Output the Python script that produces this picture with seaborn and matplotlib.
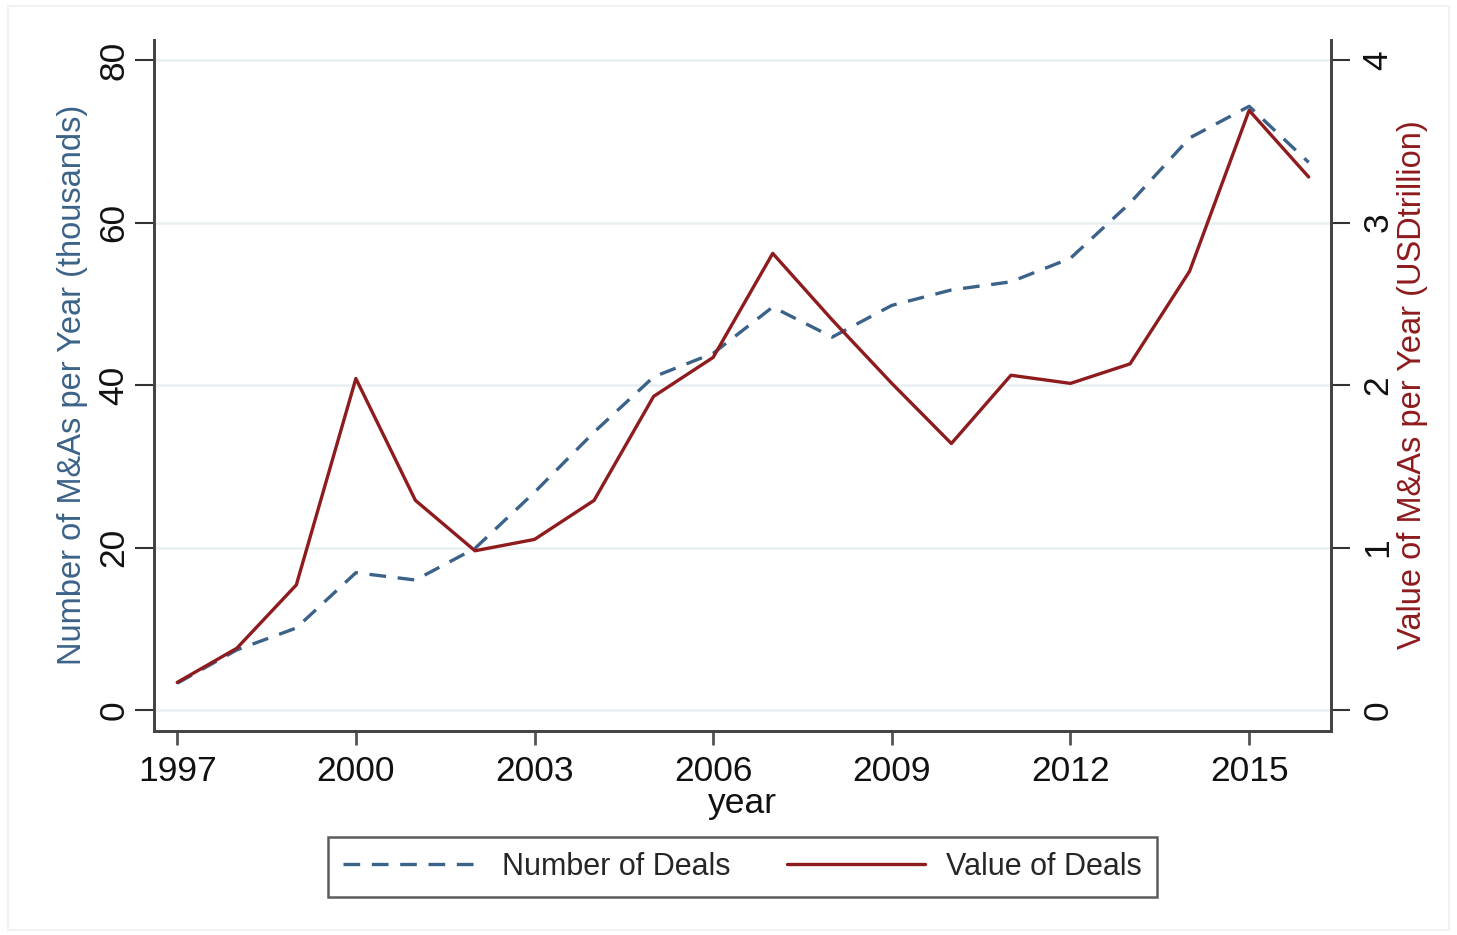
import matplotlib
matplotlib.use("Agg")
import matplotlib.pyplot as plt
import seaborn as sns
import pandas as pd
from matplotlib.patches import Rectangle

years = list(range(1997, 2017))
num_deals = [3.3, 7.4, 10.1, 16.9, 16.0, 19.9, 26.8, 34.2, 41.0, 43.9,
             49.6, 45.9, 49.8, 51.7, 52.7, 55.6, 62.4, 70.4, 74.3, 67.4]
val_deals = [0.17, 0.38, 0.77, 2.04, 1.29, 0.98, 1.05, 1.29, 1.93, 2.17,
             2.81, 2.40, 2.01, 1.64, 2.06, 2.01, 2.13, 2.70, 3.69, 3.28]
x_ticks = [1997, 2000, 2003, 2006, 2009, 2012, 2015]
left_ticks = [0, 20, 40, 60, 80]
right_ticks = [0, 1, 2, 3, 4]

df = pd.DataFrame({"year": years, "num": num_deals, "val": val_deals})

sns.set_theme(style="white")
plt.rcParams["font.family"] = ["Liberation Sans", "DejaVu Sans"]

BLUE = "#3B6288"
RED = "#8E1B1E"
GRID = "#E8F0F2"
TFS = 25.5
LFS = 23.5

fig = plt.figure(figsize=(14.57, 9.35), dpi=100)
fig.patch.set_facecolor("white")
fig.add_artist(Rectangle((8/1457, 1 - 930/935), 1449/1457 - 8/1457, (930 - 6)/935,
                         transform=fig.transFigure, fill=False, edgecolor="#EEF2F4", lw=1.5))
ax = fig.add_axes([154/1457, 1 - 731/935, (1331 - 154)/1457, (731 - 40)/935])
ax2 = ax.twinx()

sns.lineplot(data=df, x="year", y="num", ax=ax, color=BLUE, lw=2.4,
             label="Number of Deals", legend=False)
ax.lines[0].set_dashes([5, 3.5])
sns.lineplot(data=df, x="year", y="val", ax=ax2, color=RED, lw=2.4,
             label="Value of Deals", legend=False)

ax.set_xlim(1996.61, 2016.375)
ax.set_ylim(-2.58, 82.46)
ax2.set_ylim(-2.58 / 20, 82.46 / 20)

ax.set_xticks(x_ticks)
ax.set_xticklabels([str(t) for t in x_ticks], fontsize=TFS, color="#111111")
ax.set_yticks(left_ticks)
ax.set_yticklabels([str(t) for t in left_ticks], fontsize=TFS, color="#111111",
                   rotation=90, va="center")
ax2.set_yticks(right_ticks)
ax2.set_yticklabels([str(t) for t in right_ticks], fontsize=TFS, color="#111111",
                    rotation=90, va="center")

ax.tick_params(axis="y", direction="out", length=14, width=1.5, color="#333333", pad=3, left=True)
ax.tick_params(axis="x", direction="out", length=10, width=2, color="#555555", pad=7, bottom=True)
ax2.tick_params(axis="y", direction="out", length=14, width=1.5, color="#333333", pad=8, right=True)

ax.grid(axis="y", color=GRID, lw=1.8)
ax.grid(axis="x", visible=False)
ax2.grid(False)

for a in (ax, ax2):
    a.spines["top"].set_visible(False)
    for s in ("left", "right", "bottom"):
        a.spines[s].set_color("#444444")
        a.spines[s].set_linewidth(2)

W, H = 1331 - 154, 731 - 40
ax.set_xlabel("year", fontsize=TFS, color="#111111")
ax.xaxis.set_label_coords(0.5, (731 - 803) / H)
ax.xaxis.label.set_va("center")
ax.set_ylabel("Number of M&As per Year (thousands)", fontsize=LFS, color=BLUE)
ax.yaxis.set_label_coords((73 - 154) / W, (731 - 385) / H)
ax.yaxis.label.set_va("center")
ax2.set_ylabel("Value of M&As per Year (USDtrillion)", fontsize=LFS, color=RED)
ax2.yaxis.set_label_coords((1413 - 154) / W, (731 - 385) / H)
ax2.yaxis.label.set_va("center")

handles = [ax.lines[0], ax2.lines[0]]
leg = fig.legend(handles, ["Number of Deals", "Value of Deals"], ncol=2, loc="center",
                 bbox_to_anchor=(742.5/1457, 1 - 867/935), fontsize=22, frameon=True,
                 fancybox=False, edgecolor="#333333", handlelength=4.5, handletextpad=0.7,
                 columnspacing=1.85, borderpad=0.5)
leg.get_frame().set_linewidth(1.8)

fig.savefig("out.png", dpi=100)
